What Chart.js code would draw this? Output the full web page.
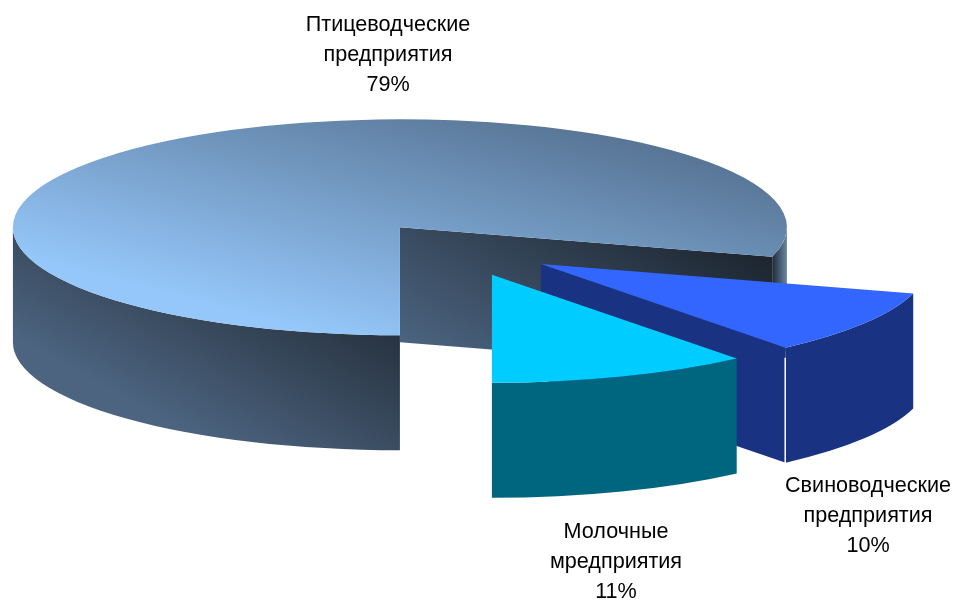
<!DOCTYPE html>
<html>
<head>
<meta charset="utf-8">
<script src="https://cdn.jsdelivr.net/npm/chart.js@4"></script>
<style>
  html, body { margin: 0; background: #fff; }
  canvas { display: block; }
</style>
</head>
<body>
<canvas id="grafico" width="954" height="600"></canvas>
<script>
const categorias = [['Птицеводческие', 'предприятия'], ['Свиноводческие', 'предприятия'], ['Молочные', 'мредприятия']];
const valores = [79.4, 9.7, 10.9];

// posição dos rótulos (centro x, y da primeira linha)
const posRotulos = [[388, 25], [868, 486], [616, 532]];
const coresTopo = [null, '#3366ff', '#00ccff'];
const coresLado = [null, '#1a3282', '#006680'];

const explosao = 98;   // deslocamento de cada fatia
const achatar = 0.279; // achatamento da elipse
const altura = 115;    // espessura da pizza
const centroY = 249;   // centro da pizza na tela

const canvas = document.getElementById('grafico');
const g = canvas.getContext('2d');

function gradiente(ctx, x0, y0, x1, y1, c0, c1) {
  const grad = ctx.createLinearGradient(x0, y0, x1, y1);
  grad.addColorStop(0, c0);
  grad.addColorStop(1, c1);
  return grad;
}

// o topo é pintado dentro da transformação: converte o vetor da tela para o espaço do gráfico
function gradienteTopo(ctx, x0, y0, x1, y1, c0, c1) {
  const dx = x1 - x0;
  const dy = y1 - y0;
  const k = (dx * dx + dy * dy) / (dx * dx + achatar * achatar * dy * dy);
  const yIni = (y0 - centroY) / achatar + 300;
  return gradiente(ctx, x0, yIni, x0 + k * dx, yIni + k * achatar * dy, c0, c1);
}

const topoGrande = gradienteTopo(g, 300, 335, 370, 63, '#95c7fa', '#54708f');

function ladoExterno(ctx, i, inicio) {
  if (i > 0) return coresLado[i];
  if (inicio > Math.PI) return gradiente(ctx, 772, 0, 788, 0, '#1f2a35', '#6f8dab');
  return gradiente(ctx, 400, 335, 308, 501, '#27323f', '#4c6480');
}

function trechosVisiveis(a, b) {
  const trechos = [];
  for (let k = 0; k < 2; k++) {
    const ini = Math.max(a, k * 2 * Math.PI);
    const fim = Math.min(b, k * 2 * Math.PI + Math.PI);
    if (fim > ini) trechos.push([ini, fim]);
  }
  return trechos;
}

const pizza3d = {
  id: 'pizza3d',
  beforeDatasetDraw(chart, args) {
    const ctx = chart.ctx;
    const arcos = chart.getDatasetMeta(args.index).data;
    arcos.forEach((arco, i) => {
      const { x, y, startAngle, endAngle, outerRadius } = arco;
      const meio = (startAngle + endAngle) / 2;
      const cx = x + Math.cos(meio) * explosao;
      const cy = centroY + Math.sin(meio) * explosao * achatar;
      const ry = outerRadius * achatar;

      // parede do corte (só a do fim da fatia aparece)
      const bx = cx + Math.cos(endAngle) * outerRadius;
      const by = cy + Math.sin(endAngle) * ry;
      ctx.beginPath();
      ctx.moveTo(cx, cy);
      ctx.lineTo(bx, by);
      ctx.lineTo(bx, by + altura);
      ctx.lineTo(cx, cy + altura);
      ctx.closePath();
      ctx.fillStyle = i === 0 ? gradiente(ctx, 772, 258, 648, 481, '#1c252f', '#4c6480') : coresLado[i];
      ctx.fill();

      // parede externa
      trechosVisiveis(startAngle, endAngle).forEach(([a, b]) => {
        ctx.beginPath();
        ctx.ellipse(cx, cy, outerRadius, ry, 0, a, b);
        ctx.ellipse(cx, cy + altura, outerRadius, ry, 0, b, a, true);
        ctx.closePath();
        ctx.fillStyle = ladoExterno(ctx, i, a);
        ctx.fill();
      });

      // filete branco na quina da fatia de suínos
      if (i === 1) {
        ctx.beginPath();
        ctx.moveTo(bx - 0.5, by + 10);
        ctx.lineTo(bx - 0.5, by + altura + 1);
        ctx.strokeStyle = '#ffffff';
        ctx.lineWidth = 1.5;
        ctx.stroke();
      }

      // topo
      ctx.save();
      ctx.translate(Math.cos(meio) * explosao, centroY + Math.sin(meio) * explosao * achatar);
      ctx.scale(1, achatar);
      ctx.translate(0, -y);
      arco.draw(ctx);
      ctx.restore();
    });
    return false;
  },
  afterDraw(chart) {
    const ctx = chart.ctx;
    ctx.save();
    ctx.font = '21.6px "Liberation Sans"';
    ctx.fillStyle = '#000000';
    ctx.textAlign = 'center';
    ctx.textBaseline = 'middle';
    categorias.forEach((linhas, i) => {
      const [px, py] = posRotulos[i];
      linhas.concat(Math.round(valores[i]) + '%').forEach((linha, n) => {
        ctx.fillText(linha, px, py + n * 30);
      });
    });
    ctx.restore();
  }
};

new Chart(canvas, {
  type: 'pie',
  data: {
    labels: categorias.map(c => c.join(' ')),
    datasets: [{
      data: valores,
      backgroundColor: [topoGrande, coresTopo[1], coresTopo[2]],
      borderWidth: 0,
      clip: false
    }]
  },
  options: {
    responsive: false,
    animation: false,
    rotation: 180,
    radius: 387,
    layout: { padding: { right: 36 } },
    events: [],
    plugins: {
      legend: { display: false },
      tooltip: { enabled: false }
    }
  },
  plugins: [pizza3d]
});
</script>
</body>
</html>
